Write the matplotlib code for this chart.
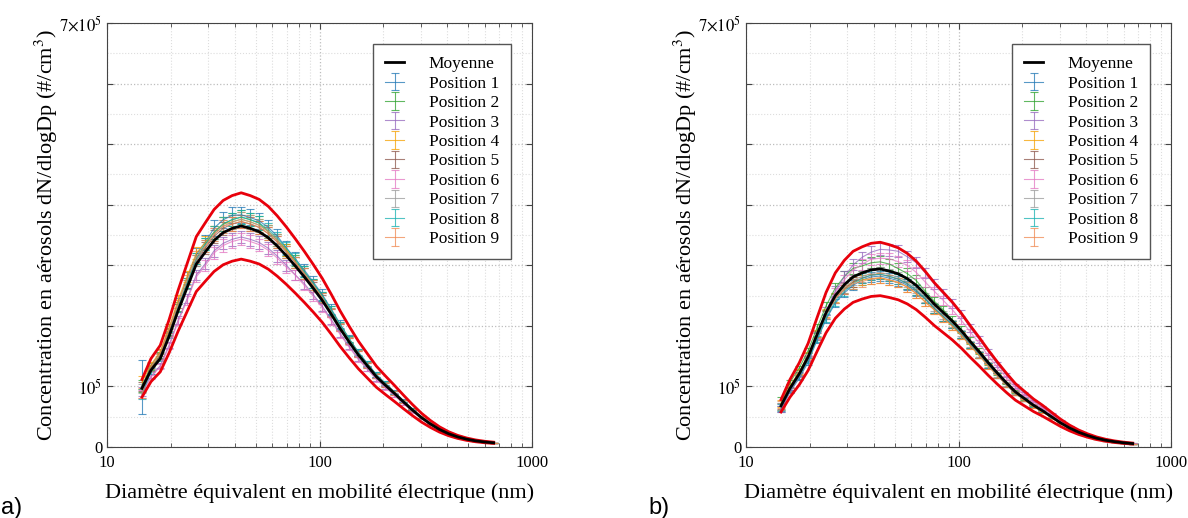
import numpy as np
import matplotlib
matplotlib.use('Agg')
import matplotlib.pyplot as plt
import matplotlib.ticker as tck

plt.rcParams['font.family'] = ['Liberation Serif', 'DejaVu Serif']
plt.rcParams['mathtext.fontset'] = 'stix'

# SMPS channel diameters (nm)
diam = [14.6, 16.1, 17.8, 19.6, 21.6, 23.8, 26.3, 29.0, 31.9, 35.2,
        38.8, 42.8, 47.2, 52.0, 57.4, 63.2, 69.8, 76.9, 84.8, 93.5,
        103.1, 113.7, 125.3, 138.2, 152.4, 168.0, 185.3, 204.3, 225.3, 248.4,
        273.9, 302.0, 333.0, 367.2, 404.9, 446.5, 492.3, 542.9, 598.6, 660.1]

# mean concentration dN/dlogDp (x 1e5 #/cm3)
mean_a = [0.97, 1.27, 1.46, 1.83, 2.25, 2.63, 3.02, 3.22, 3.41, 3.54,
          3.61, 3.65, 3.61, 3.555, 3.455, 3.32, 3.16, 2.99, 2.81, 2.62,
          2.42, 2.19, 1.95, 1.73, 1.52, 1.34, 1.16, 1.02, 0.885, 0.745,
          0.61, 0.485, 0.38, 0.29, 0.22, 0.168, 0.13, 0.102, 0.083, 0.07]
mean_b = [0.68, 0.97, 1.21, 1.49, 1.86, 2.22, 2.50, 2.68, 2.81, 2.875,
          2.925, 2.94, 2.905, 2.86, 2.78, 2.67, 2.52, 2.36, 2.22, 2.08,
          1.92, 1.74, 1.57, 1.39, 1.22, 1.06, 0.91, 0.80, 0.69, 0.60,
          0.50, 0.40, 0.315, 0.245, 0.19, 0.145, 0.112, 0.088, 0.07, 0.057]

band = 0.15   # red envelope +/- 15 %

labels = ['Position %d' % i for i in range(1, 10)]
colors = ['#1f77b4', '#2ca02c', '#9467bd', '#f5a000', '#8c564b',
          '#e377c2', '#9a9a9a', '#17b0b0', '#f08850']

# deviation of each position from the mean (%)
dev_a = [
    [2, 6, 7, 7, 6, 6, 5, 5, 6, 6, 6, 5, 5, 5, 5, 5, 4, 4, 4, 4, 4, 4, 4, 3, 3, 3, 3, 3, 3, 3, 3, 2, 2, 2, 2, 2, 2, 1, 1, 1],
    [4, 3, 4, 4, 3, 3, 3, 4, 4, 4, 4, 4, 4, 4, 3, 3, 3, 3, 3, 3, 3, 3, 3, 3, 2, 2, 2, 2, 2, 2, 2, 2, 2, 1, 1, 1, 1, 1, 1, 1],
    [-6, -8, -8, -8, -7, -7, -6, -6, -5, -5, -5, -5, -5, -5, -5, -5, -5, -5, -4, -4, -4, -4, -4, -4, -4, -4, -3, -3, -3, -3, -3, -3, -3, -2, -2, -2, -2, -2, -2, -2],
    [10, 7, 8, 8, 8, 7, 6, 5, 4, 4, 3, 3, 3, 3, 3, 3, 3, 2, 2, 2, 2, 2, 2, 2, 2, 2, 2, 2, 2, 2, 1, 1, 1, 1, 1, 1, 1, 1, 1, 1],
    [3, 2, 3, 3, 2, 2, 2, 2, 2, 2, 2, 2, 2, 2, 2, 2, 2, 2, 2, 1, 1, 1, 1, 1, 1, 1, 1, 1, 1, 1, 1, 1, 1, 1, 1, 0, 0, 0, 0, 0],
    [-10, -9, -9, -9, -8, -8, -7, -7, -6, -6, -6, -6, -6, -6, -6, -6, -6, -5, -5, -5, -5, -5, -5, -5, -5, -4, -4, -4, -4, -4, -4, -3, -3, -3, -3, -2, -2, -2, -2, -2],
    [0, 1, 2, 2, 2, 2, 2, 3, 3, 3, 3, 3, 3, 3, 3, 3, 2, 2, 2, 2, 2, 2, 2, 2, 2, 2, 2, 2, 2, 2, 1, 1, 1, 1, 1, 1, 1, 1, 0, 0],
    [-10, -2, 0, 1, 2, 3, 3, 4, 4, 4, 4, 4, 4, 4, 4, 4, 4, 4, 3, 3, 3, 3, 3, 3, 3, 3, 3, 3, 2, 2, 2, 2, 2, 2, 1, 1, 1, 1, 1, 1],
    [-8, 4, 6, 6, 5, 5, 4, 3, 3, 3, 2, 2, 2, 2, 2, 2, 2, 2, 2, 2, 2, 1, 1, 1, 1, 1, 1, 1, 1, 1, 1, 1, 1, 1, 1, 0, 0, 0, 0, 0],
]
dev_b = [
    [-8, -6, -6, -6, -5, -5, -5, -5, -5, -4, -4, -4, -4, -4, -4, -4, -3, -3, -3, -3, -3, -3, -3, -3, -3, -3, -2, -2, -2, -2, -2, -2, -2, -2, -2, -1, -1, -1, -1, -1],
    [5, 10, 8, 7, 6, 5, 5, 5, 5, 4, 4, 4, 4, 3, 3, 3, 2, 2, 2, 1, 1, 1, 1, 1, 1, 1, 1, 0, 0, 0, 0, 0, 0, 0, 0, 0, 0, 0, 0, 0],
    [-8, -6, -5, -3, -1, 1, 3, 5, 7, 9, 10, 11, 12, 13, 13, 14, 14, 14, 14, 14, 14, 13, 13, 13, 12, 12, 11, 11, 10, 10, 9, 9, 8, 8, 7, 7, 6, 6, 5, 5],
    [6, 4, 3, 2, 1, 0, -1, -2, -3, -4, -5, -5, -5, -5, -5, -5, -5, -4, -4, -4, -4, -4, -4, -4, -3, -3, -3, -3, -3, -3, -3, -2, -2, -2, -2, -2, -2, -1, -1, -1],
    [0, -1, -1, -2, -2, -2, -2, -3, -3, -3, -3, -3, -3, -3, -3, -3, -3, -3, -3, -3, -3, -3, -3, -3, -3, -3, -2, -2, -2, -2, -2, -2, -2, -2, -2, -2, -1, -1, -1, -1],
    [-4, -3, -2, -1, 0, 1, 2, 3, 4, 5, 6, 6, 7, 7, 8, 8, 8, 9, 9, 9, 9, 9, 9, 8, 8, 8, 8, 7, 7, 7, 6, 6, 6, 5, 5, 5, 4, 4, 4, 3],
    [-2, -2, -2, -2, -2, -2, -2, -2, -2, -2, -2, -2, -2, -2, -2, -2, -2, -2, -2, -2, -2, -2, -2, -2, -2, -2, -1, -1, -1, -1, -1, -1, -1, -1, -1, -1, -1, -1, -1, -1],
    [-4, -3, -4, -4, -4, -4, -4, -4, -4, -3, -3, -3, -3, -3, -3, -3, -3, -3, -3, -3, -3, -3, -3, -3, -3, -3, -3, -2, -2, -2, -2, -2, -2, -2, -2, -2, -2, -1, -1, -1],
    [4, 3, 2, 1, 0, -1, -2, -3, -4, -5, -5, -5, -5, -5, -5, -5, -5, -4, -4, -4, -4, -4, -4, -4, -4, -3, -3, -3, -3, -3, -3, -2, -2, -2, -2, -2, -2, -1, -1, -1],
]

# relative standard deviation of each position, and at the first channel
err_a = [0.035, 0.03, 0.03, 0.03, 0.03, 0.03, 0.03, 0.03, 0.03]
err0_a = [0.45, 0.10, 0.08, 0.10, 0.08, 0.08, 0.08, 0.10, 0.10]
err_b = [0.03, 0.03, 0.03, 0.03, 0.03, 0.03, 0.03, 0.03, 0.03]
err0_b = [0.08, 0.15, 0.08, 0.08, 0.08, 0.08, 0.08, 0.08, 0.08]


def draw(ax, mean, dev, err, err0):
    d = np.array(diam)
    m = np.array(mean) * 1e5
    handles = []
    for i in range(9):
        y = m * (1 + np.array(dev[i]) / 100.0)
        e = y * err[i]
        e[0] = y[0] * err0[i]
        h = ax.errorbar(d, y, yerr=e, color=colors[i], lw=0.8, elinewidth=0.8,
                        capsize=3, capthick=0.8, alpha=0.75, label=labels[i], zorder=2)
        handles.append(h)
    ax.plot(d, m * (1 + band), color='#e8000b', lw=2, zorder=4)
    ax.plot(d, m * (1 - band), color='#e8000b', lw=2, zorder=4)
    hm, = ax.plot(d, m, color='black', lw=2, label='Moyenne', zorder=5)

    ax.set_xscale('log')
    ax.set_xlim(10, 1000)
    ax.set_ylim(0, 7e5)
    ax.set_xticks([10, 100, 1000])
    ax.set_xticklabels(['10', '100', '1000'])
    ax.xaxis.set_minor_locator(tck.LogLocator(base=10, subs=np.arange(2, 10)))
    ax.xaxis.set_minor_formatter(tck.NullFormatter())
    ax.set_yticks(np.arange(0, 7.01e5, 1e5))
    ax.set_yticklabels(['0', r'$10^5$', '', '', '', '', '', r'$7{\times}10^5$'])
    ax.yaxis.set_minor_locator(tck.MultipleLocator(0.5e5))
    ax.tick_params(which='both', direction='in', top=True, right=True, labelsize=12, color='#444444')
    ax.tick_params(which='major', length=4)
    ax.tick_params(axis='x', which='both', pad=6)
    ax.tick_params(axis='x', which='minor', length=3)
    ax.tick_params(axis='y', which='minor', length=0)
    ax.grid(which='major', color='#bdbdbd', ls=':', lw=0.9)
    ax.grid(which='minor', color='#dddddd', ls=':', lw=0.8)
    for s in ax.spines.values():
        s.set_color('#444444')

    ax.set_xlabel('Diamètre équivalent en mobilité électrique (nm)', fontsize=16)
    ax.set_ylabel('Concentration en aérosols dN/dlogDp (#/cm$^3$)', fontsize=16)
    ax.xaxis.set_label_coords(0.5, -0.085)
    ax.yaxis.set_label_coords(-0.11, 0.5)

    leg = ax.legend([hm] + handles, ['Moyenne'] + labels, loc='upper right',
                    fontsize=12.5, handlelength=1.1, labelspacing=0.19,
                    borderaxespad=1.2, fancybox=False, framealpha=1,
                    borderpad=0.7, handletextpad=1.4)
    leg.get_frame().set_edgecolor('#555555')
    leg.get_frame().set_linewidth(1.0)


fig = plt.figure(figsize=(11.88, 5.18), dpi=100)
ax1 = fig.add_axes([0.0901, 0.137, 0.3577, 0.8185])
ax2 = fig.add_axes([0.628, 0.137, 0.3577, 0.8185])

draw(ax1, mean_a, dev_a, err_a, err0_a)
draw(ax2, mean_b, dev_b, err_b, err0_b)

fig.text(0.001, 0.008, 'a)', fontsize=17, family=['Liberation Sans', 'DejaVu Sans'])
fig.text(0.546, 0.008, 'b)', fontsize=17, family=['Liberation Sans', 'DejaVu Sans'])

fig.savefig('out.png', dpi=100)
